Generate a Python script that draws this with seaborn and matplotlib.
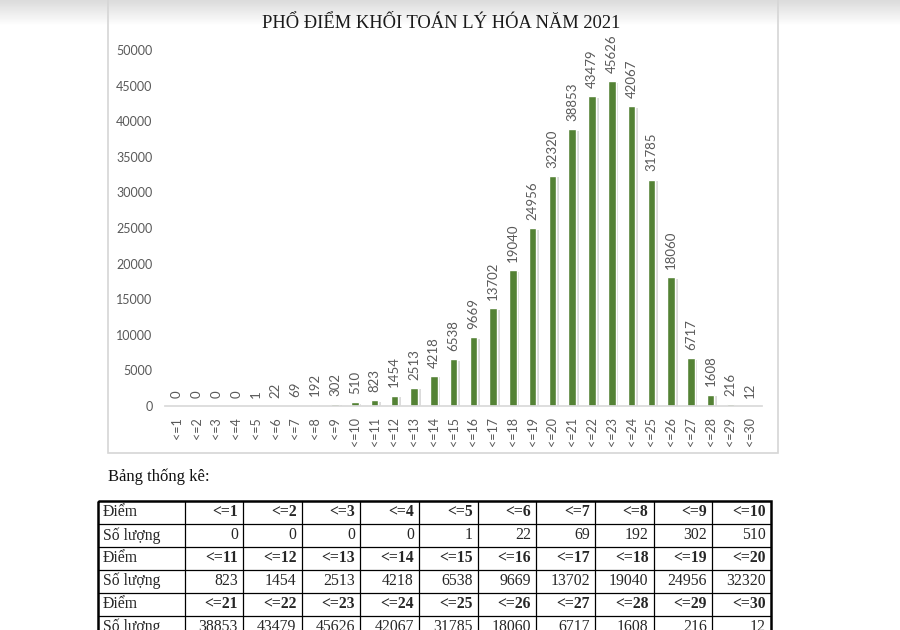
import matplotlib
matplotlib.use("Agg")
import matplotlib.pyplot as plt
import matplotlib.patheffects as pe
from matplotlib.patches import Rectangle
import numpy as np
import seaborn as sns

score_labels = [f"<={i}" for i in range(1, 31)]
counts = [0, 0, 0, 0, 1, 22, 69, 192, 302, 510,
          823, 1454, 2513, 4218, 6538, 9669, 13702, 19040, 24956, 32320,
          38853, 43479, 45626, 42067, 31785, 18060, 6717, 1608, 216, 12]
title = "PHỔ ĐIỂM KHỐI TOÁN LÝ HÓA NĂM 2021"
table_caption = "Bảng thống kê:"
row_head_score = "Điểm"
row_head_count = "Số lượng"

BAR = "#548235"
GRAY_TXT = "#595959"
W, H = 900, 630

sns.set_theme(style="white")
plt.rcParams["font.family"] = ["Lato", "DejaVu Sans"]

fig = plt.figure(figsize=(9, 6.3), dpi=100)
fig.patch.set_facecolor("white")


def px_rect(x0, y0, x1, y1):
    # pixel box (top-left origin) -> figure fraction [l, b, w, h]
    return [x0 / W, 1 - y1 / H, (x1 - x0) / W, (y1 - y0) / H]


# grey gradient at the top of the screenshot
bg = fig.add_axes([0, 0, 1, 1], zorder=-5)
bg.set_axis_off()
bg.set_xlim(0, W)
bg.set_ylim(H, 0)
grad = np.linspace(0.86, 1.0, 40).reshape(-1, 1)
bg.imshow(grad, cmap="gray", vmin=0, vmax=1, extent=[0, W, 26, 0], aspect="auto")
bg.add_patch(Rectangle((107.5, -5), 670, 457.5, fill=False, edgecolor="#d6d6d6", linewidth=1.2))

fig.text(441 / W, 1 - 23 / H, title, ha="center", va="center",
         fontsize=13.3, family="Liberation Serif", color="#1a1a1a")

# bar chart
ax = fig.add_axes(px_rect(165, 50, 762, 406))
sns.barplot(x=score_labels, y=counts, color=BAR, width=0.38, saturation=1, ax=ax)
for bar in ax.patches:
    bar.set_path_effects([pe.SimplePatchShadow(offset=(2, -1), shadow_rgbFace="#b0b0b0", alpha=0.45),
                          pe.Normal()])
ax.bar_label(ax.containers[0], rotation=90, padding=6, fontsize=9.5, color=GRAY_TXT)
ax.set_xlim(-0.6, 29.6)
ax.set_ylim(0, 50000)
ax.set_yticks(range(0, 50001, 5000))
ax.set_xlabel("")
ax.set_ylabel("")
for s in ["top", "right", "left"]:
    ax.spines[s].set_visible(False)
ax.spines["bottom"].set_color("#d9d9d9")
ax.tick_params(axis="y", length=0, pad=9, labelsize=9, labelcolor=GRAY_TXT)
ax.tick_params(axis="x", length=0, pad=8, labelsize=9, labelcolor=GRAY_TXT, labelrotation=90)
ax.set_facecolor("none")

fig.text(108 / W, 1 - 477 / H, table_caption, ha="left", va="center",
         fontsize=12, family="Liberation Serif", color="#111111")

# statistics table (bottom row is cut by the image edge, as in the screenshot)
first_w = 87 / 58.6
n_cols = 10
n_rows = 6
tx = fig.add_axes(px_rect(97.5, 501, 771, 638.5))
tx.set_xlim(0, first_w + n_cols)
tx.set_ylim(n_rows, 0)
tx.set_axis_off()
col_edges = [0] + [first_w + i for i in range(n_cols + 1)]
for xe in col_edges[1:-1]:
    tx.plot([xe, xe], [0, n_rows], color="black", lw=0.9, clip_on=False)
for r in range(1, n_rows):
    tx.plot([0, col_edges[-1]], [r, r], color="black", lw=0.9, clip_on=False)
tx.add_patch(Rectangle((0, 0), col_edges[-1], n_rows, fill=False, edgecolor="black", lw=1.8, clip_on=False))

FS = 11.3
for block in range(3):
    r_score = block * 2
    r_count = r_score + 1
    tx.text(0.09, r_score + 0.5, row_head_score, ha="left", va="center",
            fontsize=FS, family="Liberation Serif", clip_on=False)
    tx.text(0.09, r_count + 0.5, row_head_count, ha="left", va="center",
            fontsize=FS, family="Liberation Serif", clip_on=False)
    for c in range(n_cols):
        idx = block * n_cols + c
        xr = col_edges[c + 2] - 0.09
        tx.text(xr, r_score + 0.5, score_labels[idx], ha="right", va="center",
                fontsize=FS, family="Liberation Serif", fontweight="bold", clip_on=False)
        tx.text(xr, r_count + 0.5, str(counts[idx]), ha="right", va="center",
                fontsize=FS, family="Liberation Serif", clip_on=False)

fig.savefig("out.png", dpi=100)
plt.close(fig)
